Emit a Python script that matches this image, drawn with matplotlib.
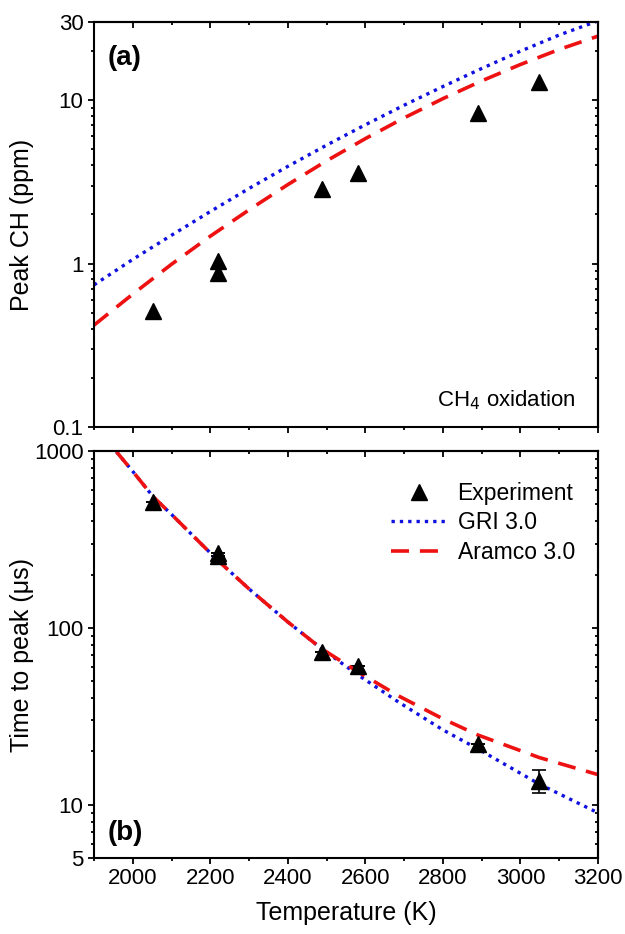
import matplotlib
matplotlib.use('Agg')
import matplotlib.pyplot as plt
from matplotlib.ticker import LogLocator, NullFormatter, MultipleLocator, FixedLocator, FixedFormatter

plt.rcParams['font.family'] = ['Liberation Sans', 'DejaVu Sans']

# experiment temperatures (K)
exp_T = [2053, 2220, 2220, 2488, 2582, 2890, 3048]
# (a) peak CH mole fraction (ppm)
exp_peak = [0.51, 1.04, 0.88, 2.85, 3.6, 8.3, 12.9]
# (b) time to peak (us)
exp_time = [512, 266, 255, 73, 61, 22.1, 13.7]
exp_time_err = [0, 0, 0, 0, 0, 0, 2.1]

# model curves, (a)
gri_peak_T = [1900, 2000, 2100, 2200, 2300, 2400, 2500, 2600, 2700, 2800, 2900, 3000, 3100, 3200]
gri_peak = [0.74, 1.06, 1.49, 2.08, 2.88, 3.93, 5.3, 7.06, 9.3, 12.1, 15.6, 19.9, 25.0, 30.5]
aramco_peak_T = [1900, 2000, 2100, 2200, 2300, 2400, 2500, 2600, 2700, 2800, 2900, 3000, 3100, 3200]
aramco_peak = [0.42, 0.65, 0.99, 1.47, 2.13, 3.04, 4.25, 5.81, 7.78, 10.2, 13.1, 16.5, 20.4, 24.6]

# model curves, (b)
gri_time_T = [1958, 2000, 2053, 2100, 2220, 2300, 2400, 2488, 2582, 2686, 2800, 2890, 3048, 3200]
gri_time = [990, 767, 550, 438, 240, 166, 108, 76, 54, 38, 26.5, 20.7, 13.1, 9.0]
aramco_time_T = [1958, 2000, 2053, 2100, 2220, 2300, 2400, 2488, 2582, 2686, 2800, 2890, 3048, 3200]
aramco_time = [990, 767, 550, 438, 240, 166, 108, 76, 56.2, 41.2, 30.6, 24.8, 18.5, 14.8]

fig = plt.figure(figsize=(6.25, 9.34), dpi=100)
ax1 = fig.add_axes([0.1504, 0.5428, 0.8064, 0.4336])
ax2 = fig.add_axes([0.1504, 0.0814, 0.8064, 0.4357])

blue = '#1010e0'
red = '#ee1111'
dots = (0, (1, 1.5))
dashes = (0, (5, 3))

ax1.plot(gri_peak_T, gri_peak, color=blue, linestyle=dots, linewidth=2.4)
ax1.plot(aramco_peak_T, aramco_peak, color=red, linestyle=dashes, linewidth=2.6)
ax1.plot(exp_T, exp_peak, '^', color='black', markersize=11, linestyle='none')

eb = ax2.errorbar(exp_T, exp_time, yerr=exp_time_err, fmt='^', color='black', markersize=11,
                  capsize=5, elinewidth=1.2, capthick=1.2)
l_gri, = ax2.plot(gri_time_T, gri_time, color=blue, linestyle=dots, linewidth=2.4)
l_ara, = ax2.plot(aramco_time_T, aramco_time, color=red, linestyle=dashes, linewidth=2.6)

for ax in (ax1, ax2):
    ax.set_yscale('log')
    ax.set_xlim(1900, 3200)
    ax.xaxis.set_major_locator(MultipleLocator(200))
    ax.xaxis.set_minor_locator(MultipleLocator(100))
    ax.yaxis.set_minor_locator(LogLocator(base=10, subs=range(2, 10), numticks=20))
    ax.yaxis.set_minor_formatter(NullFormatter())
    for s in ax.spines.values():
        s.set_linewidth(1.5)
    ax.tick_params(which='both', direction='out', width=1.3, labelsize=16, pad=3)
    ax.tick_params(which='major', length=4.5)
    ax.tick_params(which='minor', length=2.5)
    # mirrored ticks on top/right point inward
    sx = ax.secondary_xaxis('top')
    sx.xaxis.set_major_locator(MultipleLocator(200))
    sx.xaxis.set_minor_locator(MultipleLocator(100))
    sx.tick_params(which='both', direction='in', labeltop=False, width=1.3)
    sx.tick_params(which='major', length=4.5)
    sx.tick_params(which='minor', length=2.5)
    sy = ax.secondary_yaxis('right')
    sy.yaxis.set_minor_locator(LogLocator(base=10, subs=range(2, 10), numticks=20))
    sy.yaxis.set_minor_formatter(NullFormatter())
    sy.tick_params(which='both', direction='in', labelright=False, width=1.3)
    sy.tick_params(which='major', length=4.5)
    sy.tick_params(which='minor', length=2.5)
    sx.spines['top'].set_linewidth(1.5)
    sy.spines['right'].set_linewidth(1.5)

ax1.set_ylim(0.1, 30)
ax1.yaxis.set_major_locator(FixedLocator([0.1, 1, 10, 30]))
ax1.yaxis.set_major_formatter(FixedFormatter(['0.1', '1', '10', '30']))
ax1.tick_params(axis='x', labelbottom=False)
ax1.set_ylabel('Peak CH (ppm)', fontsize=18)
ax1.yaxis.set_label_coords(-0.12, 0.5)
ax1.text(0.028, 0.895, '(a)', transform=ax1.transAxes, fontsize=20, fontweight='bold')
ax1.text(0.955, 0.05, 'CH$_4$ oxidation', transform=ax1.transAxes, fontsize=16, ha='right')

ax2.set_ylim(5, 1000)
ax2.yaxis.set_major_locator(FixedLocator([5, 10, 100, 1000]))
ax2.yaxis.set_major_formatter(FixedFormatter(['5', '10', '100', '1000']))
ax2.set_xlabel('Temperature (K)', fontsize=18, labelpad=8)
ax2.set_ylabel('Time to peak (\u03bcs)', fontsize=18)
ax2.yaxis.set_label_coords(-0.12, 0.5)
ax2.text(0.028, 0.045, '(b)', transform=ax2.transAxes, fontsize=20, fontweight='bold')
ax2.legend([eb.lines[0], l_gri, l_ara], ['Experiment', 'GRI 3.0', 'Aramco 3.0'],
           loc='upper right', bbox_to_anchor=(0.954, 0.925), frameon=False, fontsize=16.5,
           handlelength=2.4, handletextpad=0.5, borderpad=0, borderaxespad=0,
           labelspacing=0.3)

fig.savefig('out.png', dpi=100)
